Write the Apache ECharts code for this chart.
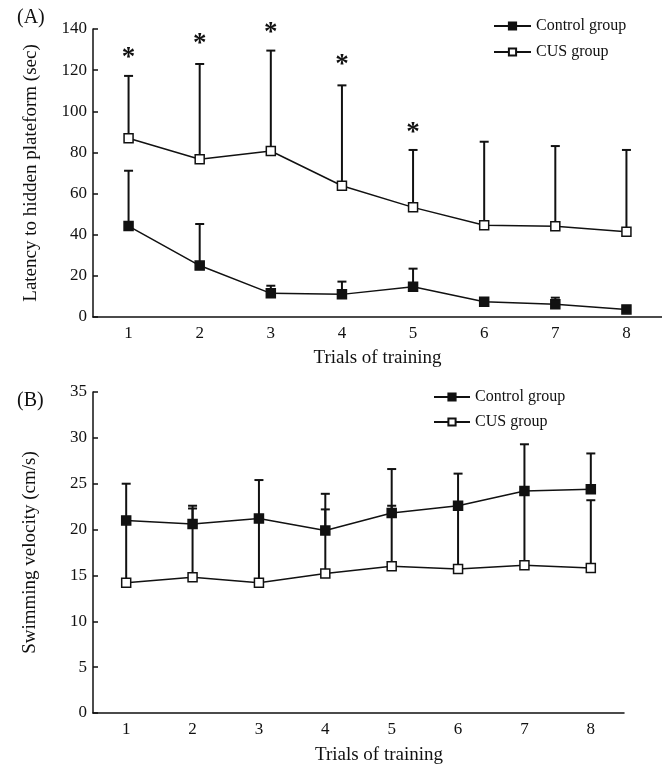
<!DOCTYPE html>
<html>
<head>
<meta charset="utf-8">
<script src="https://cdn.jsdelivr.net/npm/echarts@6/dist/echarts.min.js"></script>
<style>
  html, body { margin: 0; padding: 0; background: #fff; }
  #main { width: 662px; height: 773px; }
</style>
</head>
<body>
<div id="main"></div>
<script>
// trials on the x axis (both panels)
const trials = ["1", "2", "3", "4", "5", "6", "7", "8"];

// (A) latency to hidden platform, sec
const latencyControl = [44.2, 25.0, 11.5, 11.0, 14.7, 7.4, 6.2, 3.7];
const latencyControlTop = [71.1, 45.2, 15.2, 17.2, 23.5, 8.4, 9.4, 3.7];
const latencyCus = [86.9, 76.7, 80.7, 63.8, 53.3, 44.6, 44.1, 41.5];
const latencyCusTop = [117.2, 123.0, 129.5, 112.6, 81.2, 85.2, 83.1, 81.2];
// significance marks (trial index, height)
const starTrials = [0, 1, 2, 3, 4];
const starHeights = [128.3, 134.7, 140.0, 124.9, 91.4];

// (B) swimming velocity, cm/s
const velocityControl = [21.0, 20.6, 21.2, 19.9, 21.8, 22.6, 24.2, 24.4];
const velocityControlTop = [25.0, 22.6, 25.4, 23.9, 26.6, 26.1, 29.3, 28.3];
const velocityCus = [14.2, 14.8, 14.2, 15.2, 16.0, 15.7, 16.1, 15.8];
const velocityCusTop = [21.0, 22.3, 21.2, 22.2, 22.6, 22.6, 24.2, 23.2];

const font = "Liberation Serif";
const ink = "#111";

// vertical error bar with a cap, drawn through the axis scales
function errorBar(values, tops) {
  return function (params, api) {
    const i = api.value(0);
    const base = api.coord([i, values[i]]);
    const top = api.coord([i, tops[i]]);
    return {
      type: "group",
      children: [
        { type: "line", shape: { x1: base[0], y1: base[1], x2: top[0], y2: top[1] },
          style: { stroke: ink, lineWidth: 2 } },
        { type: "line", shape: { x1: top[0] - 4.5, y1: top[1], x2: top[0] + 4.5, y2: top[1] },
          style: { stroke: ink, lineWidth: 2 } },
      ],
    };
  };
}

function lineSeries(name, data, filled, axis) {
  return {
    name: name,
    type: "line",
    xAxisIndex: axis,
    yAxisIndex: axis,
    data: data,
    symbol: "rect",
    symbolSize: 9,
    z: 3,
    lineStyle: { color: ink, width: 1.5 },
    itemStyle: { color: filled ? ink : "#fff", borderColor: ink, borderWidth: 1.5 },
    emphasis: { disabled: true },
  };
}

function barSeries(values, tops, axis) {
  return {
    type: "custom",
    xAxisIndex: axis,
    yAxisIndex: axis,
    data: trials.map((t, i) => [i]),
    renderItem: errorBar(values, tops),
    z: 1,
    silent: true,
  };
}

function xAxisCfg(grid, gap, pad) {
  return {
    type: "category",
    gridIndex: grid,
    data: trials,
    boundaryGap: true,
    name: "Trials of training",
    nameLocation: "middle",
    nameGap: gap,
    nameTextStyle: { fontFamily: font, fontSize: 19, color: ink, padding: pad },
    axisLine: { lineStyle: { color: ink, width: 1.5 } },
    axisTick: { inside: true, length: 5, lineStyle: { color: ink, width: 1.5 } },
    axisLabel: { fontFamily: font, fontSize: 17, color: ink, margin: 8 },
    splitLine: { show: false },
  };
}

function yAxisCfg(grid, name, max, step, gap) {
  return {
    type: "value",
    gridIndex: grid,
    min: 0,
    max: max,
    interval: step,
    name: name,
    nameLocation: "middle",
    nameGap: gap,
    nameTextStyle: { fontFamily: font, fontSize: 19, color: ink },
    axisLine: { show: true, lineStyle: { color: ink, width: 1.5 } },
    axisTick: { show: true, inside: true, length: 5, lineStyle: { color: ink, width: 1.5 } },
    axisLabel: { fontFamily: font, fontSize: 17, color: ink, margin: 6 },
    splitLine: { show: false },
  };
}

const chart = echarts.init(document.getElementById("main"));

const option = {
  animation: false,
  backgroundColor: "#fff",
  grid: [
    { left: 93, top: 29, width: 572, height: 288 },
    { left: 93, top: 392, width: 531, height: 321 },
  ],
  legend: [
    {
      data: ["Control group", "CUS group"],
      left: 488, top: 13, orient: "vertical",
      itemWidth: 37, itemHeight: 9, itemGap: 10,
      textStyle: { fontFamily: font, fontSize: 16, color: ink },
      selectedMode: false,
    },
    {
      data: ["Control group", "CUS group"],
      left: 428, top: 384, orient: "vertical",
      itemWidth: 36, itemHeight: 9, itemGap: 9,
      textStyle: { fontFamily: font, fontSize: 16, color: ink },
      selectedMode: false,
    },
  ],
  xAxis: [xAxisCfg(0, 32, [0, 0, 0, 0]), xAxisCfg(1, 33, [0, 0, 0, 41])],
  yAxis: [
    yAxisCfg(0, "Latency to hidden plateform (sec)", 140, 20, 52),
    yAxisCfg(1, "Swimming velocity (cm/s)", 35, 5, 53),
  ],
  graphic: [
    { type: "text", left: 17, top: 8, style: { text: "(A)", font: "20px " + font, fill: ink } },
    { type: "text", left: 17, top: 391, style: { text: "(B)", font: "20px " + font, fill: ink } },
  ],
  series: [
    barSeries(latencyControl, latencyControlTop, 0),
    barSeries(latencyCus, latencyCusTop, 0),
    lineSeries("Control group", latencyControl, true, 0),
    lineSeries("CUS group", latencyCus, false, 0),
    {
      type: "custom",
      xAxisIndex: 0,
      yAxisIndex: 0,
      data: starTrials.map((t, k) => [t, starHeights[k]]),
      renderItem: function (params, api) {
        const p = api.coord([api.value(0), api.value(1)]);
        return {
          type: "text",
          x: p[0],
          y: p[1] - 9,
          style: { text: "*", font: "bold 27px " + font, fill: ink,
                   textAlign: "center", textVerticalAlign: "top" },
        };
      },
      z: 4,
      silent: true,
    },
    barSeries(velocityControl, velocityControlTop, 1),
    barSeries(velocityCus, velocityCusTop, 1),
    lineSeries("Control group", velocityControl, true, 1),
    lineSeries("CUS group", velocityCus, false, 1),
  ],
};

chart.setOption(option);
</script>
</body>
</html>
